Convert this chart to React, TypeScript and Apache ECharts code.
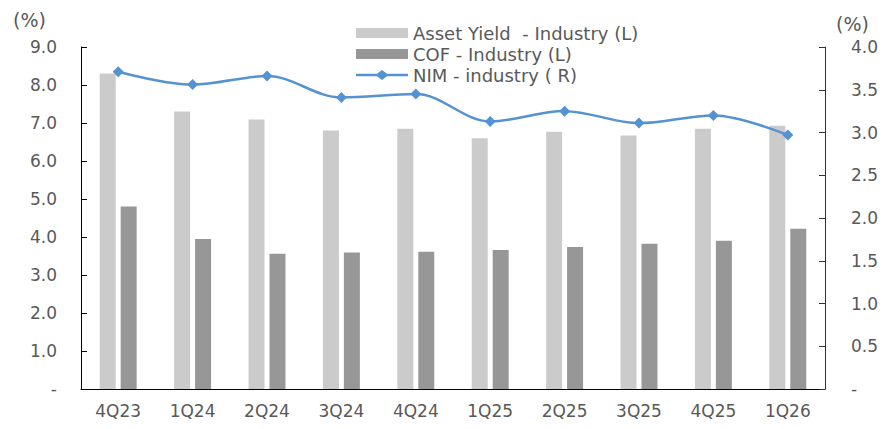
import React, { useEffect, useRef } from "react";
import * as echarts from "echarts";

const categories = ["4Q23", "1Q24", "2Q24", "3Q24", "4Q24", "1Q25", "2Q25", "3Q25", "4Q25", "1Q26"];
const assetYield = [8.3, 7.3, 7.09, 6.8, 6.85, 6.6, 6.77, 6.67, 6.85, 6.93];
const cof = [4.8, 3.95, 3.56, 3.59, 3.61, 3.66, 3.74, 3.82, 3.9, 4.22];
const nim = [3.71, 3.56, 3.66, 3.41, 3.45, 3.13, 3.25, 3.11, 3.2, 2.97];
const seriesNames = ["Asset Yield  - Industry (L)", "COF - Industry (L)", "NIM - industry ( R)"];

const FONT = "DejaVu Sans";
const TXT = "#595959";
const LINE_ICON = "path://M0,3.8 L21,3.8 L26,0 L31,3.8 L52,3.8 L52,6.2 L31,6.2 L26,10 L21,6.2 L0,6.2 Z";

export default function App() {
  const ref = useRef<HTMLDivElement>(null);
  useEffect(() => {
    if (!ref.current) return;
    const chart = echarts.init(ref.current, undefined, { renderer: "svg" });
    const fmt = (v: number) => (v === 0 ? "-" : v.toFixed(1));
    chart.setOption({
      animation: false,
      backgroundColor: "#fff",
      textStyle: { fontFamily: FONT, color: TXT },
      grid: { left: 81, right: 63, top: 47, bottom: 40, containLabel: false },
      legend: {
        orient: "vertical",
        left: 351,
        top: 19,
        itemWidth: 52,
        itemHeight: 10,
        itemGap: 3,
        textStyle: { fontFamily: FONT, fontSize: 18, color: TXT },
        data: [
          { name: seriesNames[0], icon: "rect" },
          { name: seriesNames[1], icon: "rect" },
          { name: seriesNames[2], icon: LINE_ICON },
        ],
      },
      graphic: [
        { type: "text", left: 13, top: 10, style: { text: "(%)", font: `19px "${FONT}"`, fill: TXT } },
        { type: "text", left: 836, top: 14, style: { text: "(%)", font: `19px "${FONT}"`, fill: TXT } },
      ],
      xAxis: {
        type: "category",
        data: categories,
        axisLine: { lineStyle: { color: "#000", width: 1 } },
        axisTick: { inside: true, length: 6, lineStyle: { color: "#000" } },
        axisLabel: { fontFamily: FONT, fontSize: 17, color: TXT, margin: 13 },
      },
      yAxis: [
        {
          type: "value",
          min: 0,
          max: 9,
          interval: 1,
          axisLine: { show: true, lineStyle: { color: "#000" } },
          axisTick: { show: true, inside: true, length: 6, lineStyle: { color: "#000" } },
          splitLine: { show: false },
          axisLabel: { formatter: fmt, fontFamily: FONT, fontSize: 17, color: TXT, margin: 24 },
        },
        {
          type: "value",
          min: 0,
          max: 4,
          interval: 0.5,
          position: "right",
          axisLine: { show: true, lineStyle: { color: "#333" } },
          axisTick: { show: true, inside: true, length: 6, lineStyle: { color: "#333" } },
          splitLine: { show: false },
          axisLabel: { formatter: fmt, fontFamily: FONT, fontSize: 17, color: TXT, margin: 26 },
        },
      ],
      series: [
        {
          name: seriesNames[0],
          type: "bar",
          data: assetYield,
          barWidth: 16,
          barGap: "31%",
          itemStyle: { color: "#CBCBCB" },
        },
        {
          name: seriesNames[1],
          type: "bar",
          data: cof,
          barWidth: 16,
          barGap: "31%",
          itemStyle: { color: "#979797" },
        },
        {
          name: seriesNames[2],
          type: "line",
          yAxisIndex: 1,
          data: nim,
          smooth: 0.35,
          symbol: "diamond",
          symbolSize: 11,
          lineStyle: { color: "#5592D2", width: 2.5 },
          itemStyle: { color: "#5592D2" },
        },
      ],
    });
    return () => chart.dispose();
  }, []);
  return <div ref={ref} style={{ position: "fixed", left: 0, top: 0, width: 888, height: 429 }} />;
}
